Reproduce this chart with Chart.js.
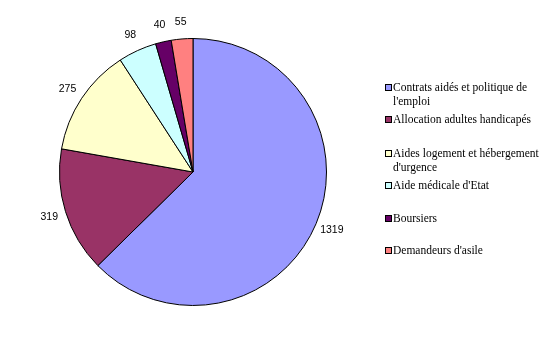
<!DOCTYPE html>
<html>
<head>
<meta charset="utf-8">
<script src="https://cdn.jsdelivr.net/npm/chart.js@4.4.1/dist/chart.umd.min.js"></script>
<style>
  html, body { margin: 0; padding: 0; background: #fff; }
  #wrap { position: relative; width: 549px; height: 351px; }
</style>
</head>
<body>
<div id="wrap"><canvas id="camembert" width="549" height="351"></canvas></div>
<script>
// données
const categories = [
  ['Contrats aidés et politique de', "l'emploi"],
  ['Allocation adultes handicapés'],
  ['Aides logement et hébergement', "d'urgence"],
  ["Aide médicale d'Etat"],
  ['Boursiers'],
  ["Demandeurs d'asile"]
];
const valeurs = [1319, 319, 275, 98, 40, 55];
const couleurs = ['#9999FF', '#993366', '#FFFFCC', '#CCFFFF', '#660066', '#FF8080'];

// position verticale de chaque entrée de légende
const legendeY = [88, 120, 154, 186, 219, 251];

const etiquettes = {
  id: 'etiquettes',
  afterDraw(chart) {
    const ctx = chart.ctx;
    const meta = chart.getDatasetMeta(0);
    ctx.save();
    ctx.fillStyle = '#000';
    ctx.font = '10.5px "Liberation Sans", Arial, sans-serif';
    ctx.textAlign = 'center';
    ctx.textBaseline = 'middle';
    meta.data.forEach((arc, i) => {
      const mid = (arc.startAngle + arc.endAngle) / 2;
      const r = arc.outerRadius + 17;
      ctx.fillText(String(valeurs[i]), arc.x + Math.cos(mid) * r, arc.y + Math.sin(mid) * r);
    });

    // légende à droite
    ctx.font = '11.5px "Liberation Serif", "Times New Roman", serif';
    ctx.textAlign = 'left';
    categories.forEach((lignes, i) => {
      const y = legendeY[i];
      ctx.fillStyle = couleurs[i];
      ctx.fillRect(385.5, y - 3.5, 6, 6);
      ctx.strokeStyle = '#000';
      ctx.lineWidth = 1;
      ctx.strokeRect(385.5, y - 3.5, 6, 6);
      ctx.fillStyle = '#000';
      lignes.forEach((t, j) => {
        ctx.fillText(t, 393, y + j * 14);
      });
    });
    ctx.restore();
  }
};

new Chart(document.getElementById('camembert'), {
  type: 'pie',
  data: {
    labels: categories.map(l => l.join(' ')),
    datasets: [{
      data: valeurs,
      backgroundColor: couleurs,
      borderColor: '#000',
      borderWidth: 1
    }]
  },
  options: {
    responsive: false,
    animation: false,
    layout: { padding: { left: 59, right: 222, top: 38, bottom: 45 } },
    plugins: {
      legend: { display: false },
      tooltip: { enabled: false }
    }
  },
  plugins: [etiquettes]
});
</script>
</body>
</html>
